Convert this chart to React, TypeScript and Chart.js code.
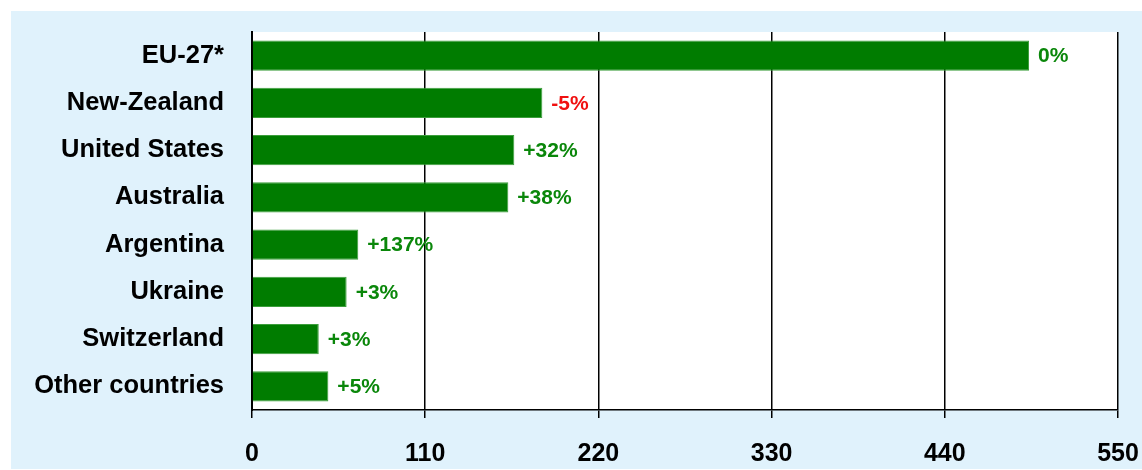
import React, { useEffect, useRef } from "react";
import { Chart, registerables } from "chart.js";

Chart.register(...registerables);

const categories = [
  "EU-27*",
  "New-Zealand",
  "United States",
  "Australia",
  "Argentina",
  "Ukraine",
  "Switzerland",
  "Other countries",
];
const values = [493.5, 184.4, 166.6, 162.8, 67.5, 60.1, 42.4, 48.5];
const changeLabels = ["0%", "-5%", "+32%", "+38%", "+137%", "+3%", "+3%", "+5%"];
const xTicks = [0, 110, 220, 330, 440, 550];

const FONT = "'Liberation Sans', Arial, sans-serif";
const GREEN = "#007C00";
const LABEL_GREEN = "#0A870A";
const LABEL_RED = "#F01010";
const BLUE_BG = "#E0F2FC";

const backgroundPlugin = {
  id: "bgPlugin",
  beforeDraw(chart: any) {
    const { ctx, chartArea } = chart;
    ctx.save();
    ctx.fillStyle = "#ffffff";
    ctx.fillRect(0, 0, chart.width, chart.height);
    ctx.fillStyle = BLUE_BG;
    ctx.fillRect(11, 11, chart.width - 11, chart.height - 12);
    ctx.fillStyle = "#ffffff";
    ctx.fillRect(
      chartArea.left,
      chartArea.top,
      chartArea.right - chartArea.left,
      chartArea.bottom - chartArea.top
    );
    ctx.restore();
  },
};

const labelPlugin = {
  id: "changeLabels",
  afterDatasetsDraw(chart: any) {
    const { ctx } = chart;
    const meta = chart.getDatasetMeta(0);
    ctx.save();
    ctx.font = `bold 21px ${FONT}`;
    ctx.textBaseline = "middle";
    ctx.textAlign = "left";
    meta.data.forEach((bar: any, i: number) => {
      const txt = changeLabels[i];
      ctx.fillStyle = txt.startsWith("-") ? LABEL_RED : LABEL_GREEN;
      ctx.fillText(txt, bar.x + 9, bar.y + 1);
    });
    ctx.restore();
  },
};

export default function App() {
  const ref = useRef<HTMLCanvasElement | null>(null);

  useEffect(() => {
    document.body.style.margin = "0";
    if (!ref.current) return;
    const chart = new Chart(ref.current, {
      type: "bar",
      data: {
        labels: categories,
        datasets: [
          {
            data: values,
            backgroundColor: GREEN,
            borderColor: "#3C9E3C",
            borderWidth: 1,
            borderSkipped: "start",
            categoryPercentage: 1,
            barPercentage: 0.635,
          },
        ],
      },
      options: {
        indexAxis: "y",
        animation: false,
        responsive: false,
        maintainAspectRatio: false,
        layout: { padding: { top: 32, right: 24, left: 0, bottom: 0 } },
        plugins: {
          legend: { display: false },
          tooltip: { enabled: false },
        },
        scales: {
          x: {
            min: 0,
            max: 550,
            afterBuildTicks(scale: any) {
              scale.ticks = xTicks.map((v) => ({ value: v }));
            },
            afterFit(scale: any) {
              scale.height = 60;
              scale.paddingLeft = 0;
              scale.paddingRight = 0;
            },
            grid: {
              color: "#000000",
              lineWidth: 1.5,
              drawTicks: true,
              tickLength: 8,
            },
            border: { display: true, color: "#000000", width: 1.5 },
            ticks: {
              color: "#000000",
              padding: 21,
              maxRotation: 0,
              font: { family: FONT, size: 25, weight: "bold" },
            },
          },
          y: {
            afterFit(scale: any) {
              scale.width = 252;
              scale.paddingTop = 0;
              scale.paddingBottom = 0;
            },
            grid: { display: false, drawTicks: false },
            border: { display: true, color: "#000000", width: 2 },
            ticks: {
              color: "#000000",
              padding: 28,
              font: { family: FONT, size: 25.5, weight: "bold" },
            },
          },
        },
      },
      plugins: [backgroundPlugin, labelPlugin],
    } as any);
    return () => chart.destroy();
  }, []);

  return (
    <div style={{ width: 1142, height: 470 }}>
      <canvas ref={ref} width={1142} height={470} style={{ display: "block" }} />
    </div>
  );
}
